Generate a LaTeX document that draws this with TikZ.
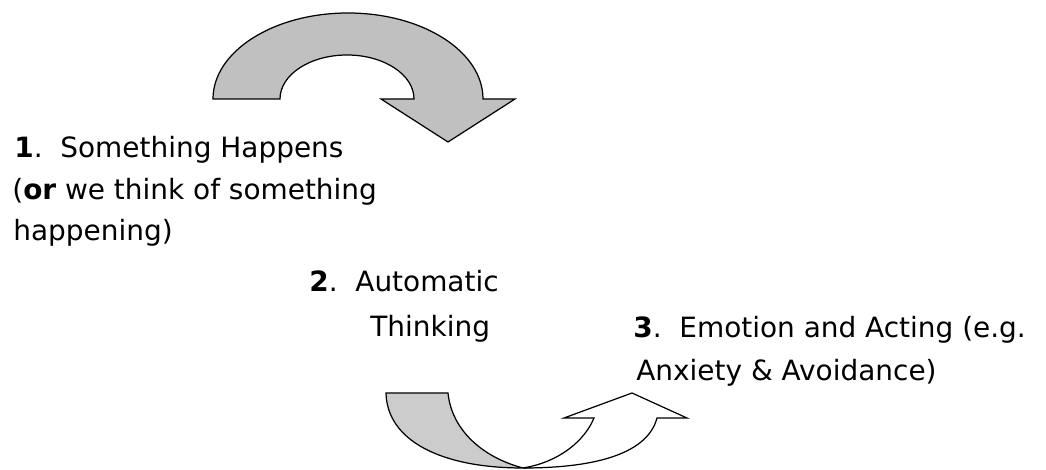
\documentclass[tikz,border=0pt]{standalone}
\usepackage{fontspec}
\setmainfont{DejaVu Sans}
\begin{document}
\begin{tikzpicture}[x=0.02cm,y=0.02cm,
  lbl/.style={anchor=base west,inner sep=0pt,font=\fontsize{15.9}{19}\selectfont},
  arrowline/.style={draw=black,line width=0.7pt,line join=miter}]
\useasboundingbox (0,0) rectangle (1046,470);
% top curved arrow (Y = 470 - y)
\path[arrowline,fill={rgb,255:red,192;green,192;blue,192}]
  (213,371) arc (180:0:135 and 86) -- (515,371) -- (448,328) -- (381,371) -- (414,371)
  arc (0:180:67 and 44) -- cycle;
% bottom curved arrow: front (white) part
\path[arrowline,fill=white]
  (523,2) .. controls (560,8) and (585,30) .. (594,52) -- (564,52) -- (632,77) -- (687,52) -- (657,52)
  .. controls (648,18) and (600,2) .. (523,2) -- cycle;
% bottom curved arrow: back (gray) part
\path[arrowline,fill={rgb,255:red,204;green,204;blue,204}]
  (386,77) -- (448,77) .. controls (452,38) and (485,12) .. (523,2)
  .. controls (440,2) and (387,30) .. (386,77) -- cycle;
% texts
\node[lbl] (t1a) at (14,312) {\textbf{1}.\ \ Something Happens};
\node[lbl] (t1b) at (12,270) {(\textbf{or} we think of something};
\node[lbl] (t1c) at (13,229) {happening)};
\node[lbl] (t2a) at (309,178) {\textbf{2}.\ \ Automatic};
\node[lbl] (t2b) at (370,133) {Thinking};
\node[lbl] (t3a) at (633,132) {\textbf{3}.\ \ Emotion and Acting (e.g.};
\node[lbl] (t3b) at (636,89) {Anxiety \& Avoidance)};
\end{tikzpicture}
\end{document}
